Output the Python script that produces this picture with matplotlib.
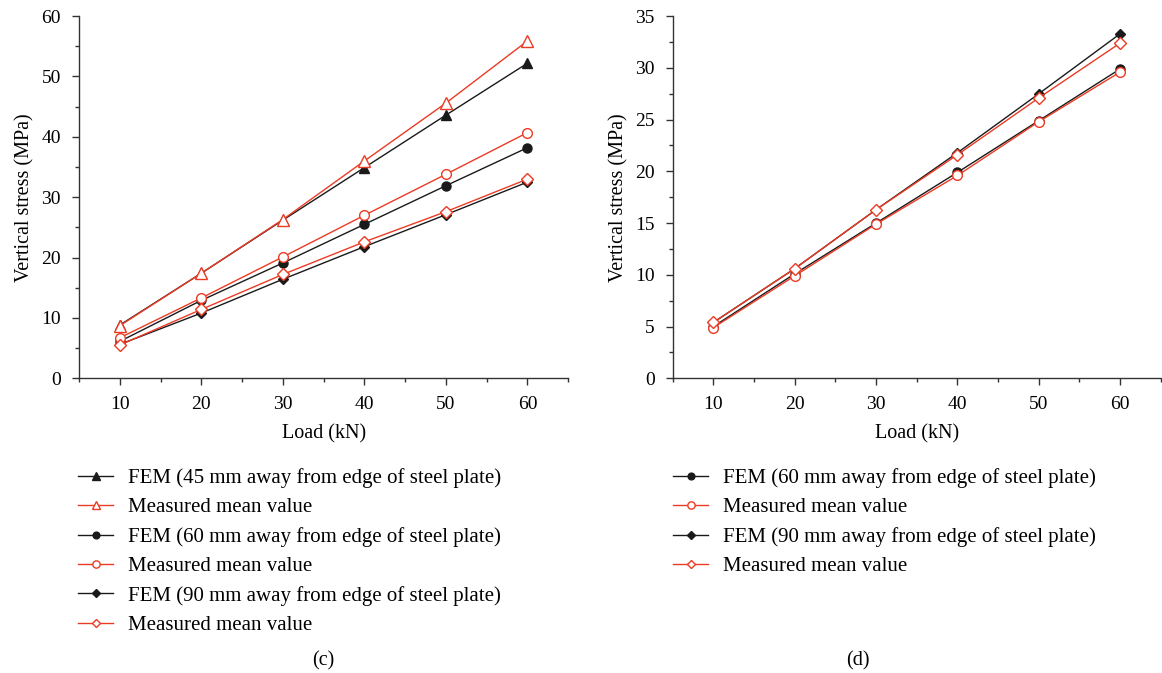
import matplotlib
matplotlib.use("Agg")
import matplotlib.pyplot as plt
from matplotlib.ticker import MultipleLocator

plt.rcParams['font.family'] = ['Liberation Serif', 'DejaVu Serif']

load = [10, 20, 30, 40, 50, 60]

# (c) three measuring positions
c_fem_45 = [8.8, 17.4, 26.2, 34.9, 43.6, 52.2]
c_meas_45 = [8.7, 17.4, 26.3, 36.0, 45.6, 55.9]
c_fem_60 = [6.1, 12.9, 19.1, 25.5, 31.9, 38.2]
c_meas_60 = [6.7, 13.3, 20.1, 27.0, 33.8, 40.7]
c_fem_90 = [5.6, 10.8, 16.4, 21.8, 27.1, 32.5]
c_meas_90 = [5.5, 11.4, 17.2, 22.6, 27.6, 33.0]

# (d) two measuring positions
d_fem_60 = [5.0, 10.1, 15.0, 19.9, 24.9, 29.9]
d_meas_60 = [4.9, 9.9, 14.9, 19.6, 24.8, 29.6]
d_fem_90 = [5.4, 10.6, 16.3, 21.8, 27.5, 33.3]
d_meas_90 = [5.4, 10.6, 16.3, 21.6, 27.1, 32.4]

fem_label_45 = 'FEM (45 mm away from edge of steel plate)'
fem_label_60 = 'FEM (60 mm away from edge of steel plate)'
fem_label_90 = 'FEM (90 mm away from edge of steel plate)'
meas_label = 'Measured mean value'

RED = '#ec3b24'
BLACK = '#1a1a1a'


def fem(ax, y, marker, label, ms):
    ax.plot(load, y, color=BLACK, lw=1.0, marker=marker, ms=ms,
            markerfacecolor=BLACK, markeredgecolor=BLACK, label=label, zorder=3)


def meas(ax, y, marker, ms):
    ax.plot(load, y, color=RED, lw=1.0, marker=marker, ms=ms,
            markerfacecolor='white', markeredgecolor=RED, markeredgewidth=1.0,
            label=meas_label, zorder=4)


def style_axes(ax, ymax, ymajor):
    ax.set_xlim(5, 65)
    ax.set_ylim(0, ymax)
    ax.xaxis.set_major_locator(MultipleLocator(10))
    ax.xaxis.set_minor_locator(MultipleLocator(5))
    ax.yaxis.set_major_locator(MultipleLocator(ymajor))
    ax.yaxis.set_minor_locator(MultipleLocator(ymajor / 2))
    for s in ['top', 'right']:
        ax.spines[s].set_visible(False)
    for s in ['left', 'bottom']:
        ax.spines[s].set_color('#333333')
        ax.spines[s].set_linewidth(1.0)
    ax.tick_params(which='major', direction='out', length=5, width=1.0,
                   labelsize=14, colors='#333333', labelcolor='black', pad=8)
    ax.tick_params(which='minor', direction='out', length=3, width=1.0,
                   colors='#333333')
    ax.set_xlabel('Load (kN)', fontsize=14.5, labelpad=8)
    ax.set_ylabel('Vertical stress (MPa)', fontsize=14.5, labelpad=5)


fig = plt.figure(figsize=(11.62, 6.73), dpi=100)
ax1 = fig.add_axes([0.068, 0.438, 0.421, 0.538])
ax2 = fig.add_axes([0.579, 0.438, 0.42, 0.538])

fem(ax1, c_fem_45, '^', fem_label_45, 7)
meas(ax1, c_meas_45, '^', 8)
fem(ax1, c_fem_60, 'o', fem_label_60, 6.5)
meas(ax1, c_meas_60, 'o', 7)
fem(ax1, c_fem_90, 'D', fem_label_90, 5.5)
meas(ax1, c_meas_90, 'D', 6)
style_axes(ax1, 60, 10)

fem(ax2, d_fem_60, 'o', fem_label_60, 6.5)
meas(ax2, d_meas_60, 'o', 7)
fem(ax2, d_fem_90, 'D', fem_label_90, 5.5)
meas(ax2, d_meas_90, 'D', 6)
style_axes(ax2, 35, 5)

legend_kw = dict(loc='upper left', bbox_transform=fig.transFigure, frameon=False,
                 fontsize=15, handlelength=1.7, handletextpad=0.72,
                 labelspacing=0.46, borderaxespad=0, borderpad=0, markerscale=0.75)
ax1.legend(bbox_to_anchor=(0.067, 0.304), **legend_kw)
ax2.legend(bbox_to_anchor=(0.579, 0.304), **legend_kw)

fig.text(0.278, 0.003, '(c)', ha='center', va='bottom', fontsize=14.5)
fig.text(0.738, 0.003, '(d)', ha='center', va='bottom', fontsize=14.5)

fig.savefig('out.png', dpi=100)
